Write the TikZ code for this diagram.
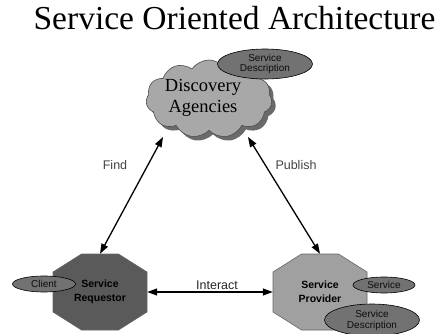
\documentclass[tikz,border=0pt]{standalone}
\usepackage{fontspec}
\setmainfont{Liberation Serif}
\setsansfont{Liberation Sans}
\usetikzlibrary{shapes.symbols,shapes.geometric,arrows.meta,calc}
\definecolor{cloudgray}{HTML}{A8A8A8}
\definecolor{shadowgray}{HTML}{6A6A6A}
\definecolor{reqgray}{HTML}{5A5A5A}
\definecolor{provgray}{HTML}{A0A0A0}
\definecolor{ellgray}{HTML}{727272}
\definecolor{labelgray}{HTML}{444444}
\tikzset{
  ell/.style={ellipse, draw=black, line width=0.6pt, fill=ellgray, inner sep=0pt,
    font=\sffamily\fontsize{10}{10.5}\selectfont, text=black!95, align=center},
  octline/.style={draw=black!60, line width=0.6pt},
  octtext/.style={rectangle, minimum width=94pt, minimum height=76pt, inner sep=0pt,
    font=\sffamily\bfseries\fontsize{10.5}{14}\selectfont, align=center, text=black},
  conn/.style={line width=1.3pt, {Triangle[length=10pt,width=7pt]}-{Triangle[length=10pt,width=7pt]}},
  lbl/.style={font=\sffamily\fontsize{12.5}{14}\selectfont, text=labelgray, inner sep=0pt}
}
\begin{document}
\begin{tikzpicture}[x=1pt,y=1pt]
\useasboundingbox (0,0) rectangle (440,333);
\fill[white] (0,0) rectangle (440,333);
% title
\node[anchor=base, inner sep=0pt, font=\fontsize{33.5}{36}\selectfont] (title) at (234.5,303) {Service Oriented Architecture};
% cloud
\node[cloud, cloud puffs=11, cloud puff arc=110, minimum width=126pt, minimum height=78pt, fill=shadowgray, inner sep=0pt] (cloudshadow) at (213,230) {};
\node[cloud, cloud puffs=11, cloud puff arc=110, minimum width=126pt, minimum height=78pt, fill=cloudgray, draw=black!70, line width=0.6pt, inner sep=0pt] (cloud) at (209,234) {};
\node[align=center, inner sep=0pt, font=\fontsize{18.5}{21}\selectfont] (disc) at (203,235) {Discovery\\Agencies};
\node[ell, minimum width=95pt, minimum height=30pt, font=\sffamily\fontsize{10}{10}\selectfont] (sdtop) at (265,269) {Service\\Description};
% requestor
\coordinate (reqc) at (100,41);
\draw[octline, fill=reqgray] ($(reqc)+(-18.5,38)$) -- ($(reqc)+(18.5,38)$) -- ($(reqc)+(47,20)$) -- ($(reqc)+(47,-20)$) -- ($(reqc)+(18.5,-38)$) -- ($(reqc)+(-18.5,-38)$) -- ($(reqc)+(-47,-20)$) -- ($(reqc)+(-47,20)$) -- cycle;
\node[octtext] (req) at (reqc) {Service\\Requestor};
\node[ell, minimum width=63pt, minimum height=16pt] (client) at (44,49) {Client};
% provider
\coordinate (provc) at (320,41);
\draw[octline, fill=provgray] ($(provc)+(-18.5,38)$) -- ($(provc)+(18.5,38)$) -- ($(provc)+(47,20)$) -- ($(provc)+(47,-20)$) -- ($(provc)+(18.5,-38)$) -- ($(provc)+(-18.5,-38)$) -- ($(provc)+(-47,-20)$) -- ($(provc)+(-47,20)$) -- cycle;
\node[octtext] (prov) at (provc) {Service\\Provider};
\node[ell, minimum width=62pt, minimum height=16pt] (service) at (384,48) {Service};
\node[ell, minimum width=95pt, minimum height=32pt, font=\sffamily\fontsize{10}{11}\selectfont] (sdbot) at (372,13) {Service\\Description};
% connectors
\coordinate (findtop) at (163,196);
\coordinate (pubtop) at (248,196);
\draw[conn] (req.north) -- (findtop);
\draw[conn] (prov.north) -- (pubtop);
\draw[conn] (req.east) -- (prov.west);
% labels
\node[lbl] (find) at (115,168) {Find};
\node[lbl] (publish) at (296,168) {Publish};
\node[lbl, text=black!85] (interact) at (217,48) {Interact};
\end{tikzpicture}
\end{document}
